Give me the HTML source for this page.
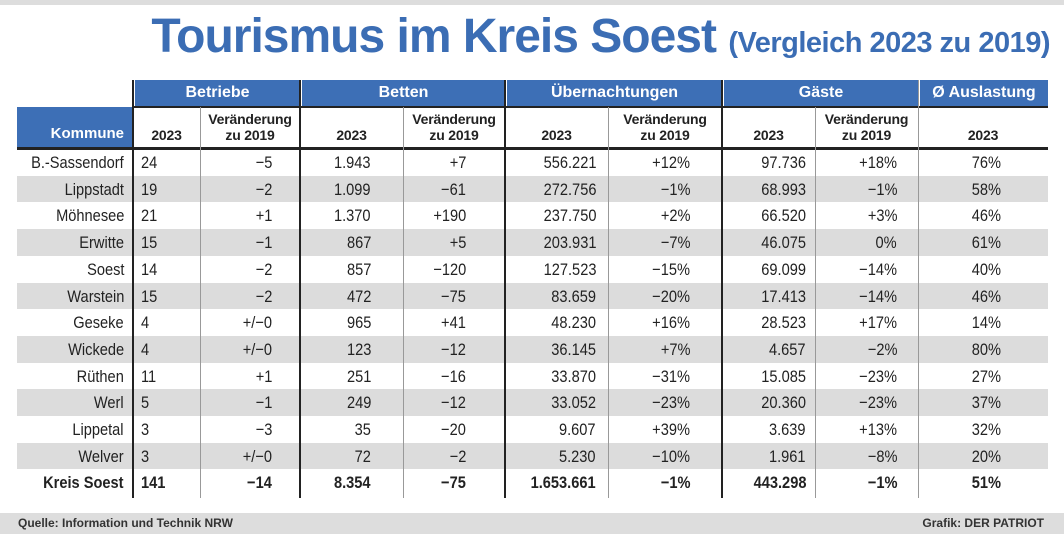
<!DOCTYPE html>
<html><head><meta charset="utf-8">
<style>
body{margin:0;width:1064px;height:534px;background:#fff;position:relative;overflow:hidden;font-family:"Liberation Sans Narrow","Liberation Sans",sans-serif;color:#222}
.a{position:absolute;white-space:nowrap}
#title{left:0;width:1050px;text-align:right;top:9px;color:#3b6db4;font-family:"Liberation Sans",sans-serif;font-weight:bold;font-size:48px;letter-spacing:-1px}
#title span{font-size:29px;letter-spacing:-0.5px}
.hb{background:#3d6fb6;color:#fff;font-weight:bold;font-size:16px;text-align:center;line-height:26px;top:80px;height:26px}
.h2{font-size:14px;font-weight:bold;text-align:center;line-height:16px;letter-spacing:-0.2px}
.cell{font-size:17px;line-height:27px;transform:scaleX(0.86)}
.cr{transform-origin:right center}
.cl{transform-origin:left center}
</style></head><body>
<div class="a" style="left:0;top:0;width:1064px;height:5px;background:#ddd"></div>
<div class="a" id="title">Tourismus im Kreis Soest <span>(Vergleich 2023 zu 2019)</span></div>
<div id="table"></div>
<div class="a" style="left:0;top:513px;width:1064px;height:21px;background:#ddd"></div>
<div class="a" style="left:18px;top:516px;font-size:12px;font-weight:bold;color:#333">Quelle: Information und Technik NRW</div>
<div class="a" style="right:20px;top:516px;font-size:12px;font-weight:bold;color:#333">Grafik: DER PATRIOT</div>
<script>
const communes=["B.-Sassendorf","Lippstadt","Möhnesee","Erwitte","Soest","Warstein","Geseke","Wickede","Rüthen","Werl","Lippetal","Welver","Kreis Soest"];
const betriebe=["24","19","21","15","14","15","4","4","11","5","3","3","141"];
const betriebeChg=["−5","−2","+1","−1","−2","−2","+/−0","+/−0","+1","−1","−3","+/−0","−14"];
const betten=["1.943","1.099","1.370","867","857","472","965","123","251","249","35","72","8.354"];
const bettenChg=["+7","−61","+190","+5","−120","−75","+41","−12","−16","−12","−20","−2","−75"];
const uebern=["556.221","272.756","237.750","203.931","127.523","83.659","48.230","36.145","33.870","33.052","9.607","5.230","1.653.661"];
const uebernChg=["+12%","−1%","+2%","−7%","−15%","−20%","+16%","+7%","−31%","−23%","+39%","−10%","−1%"];
const gaeste=["97.736","68.993","66.520","46.075","69.099","17.413","28.523","4.657","15.085","20.360","3.639","1.961","443.298"];
const gaesteChg=["+18%","−1%","+3%","0%","−14%","−14%","+17%","−2%","−23%","−23%","+13%","−8%","−1%"];
const auslastung=["76%","58%","46%","61%","40%","46%","14%","80%","27%","37%","32%","20%","51%"];

const T=document.getElementById('table');
function add(style,cls,text){const d=document.createElement('div');d.className='a '+(cls||'');d.setAttribute('style',style);if(text!==undefined)d.innerHTML=text;T.appendChild(d);return d;}
const top0=149,rowH=26.7;
communes.forEach((c,i)=>{if(i%2===1){
const r=add(`left:17px;top:${top0+i*rowH}px;width:1031px;height:${rowH}px;background:#dcdcdc`);

}});
const groups=[["Betriebe",133,300],["Betten",300,505],["Übernachtungen",505,722],["Gäste",722,918],["Ø Auslastung",918,1048]];
groups.forEach(g=>{const h=add(`left:${g[1]+2}px;width:${g[2]-g[1]-2}px`,'hb',g[0]);

});
const k=add('left:17px;top:107px;width:116px;height:41px;background:#3d6fb6;color:#fff;font-weight:bold;font-size:15px;text-align:right;box-sizing:border-box;padding:18px 9px 0 0','', 'Kommune');


const subs=[[133,200,"2023"],[200,300,"Veränderung<br>zu 2019"],[300,403,"2023"],[403,505,"Veränderung<br>zu 2019"],[505,608,"2023"],[608,722,"Veränderung<br>zu 2019"],[722,815,"2023"],[815,918,"Veränderung<br>zu 2019"],[918,1048,"2023"]];
subs.forEach(s=>{const two=s[2].includes('<br>');const h=add(`left:${s[0]}px;width:${s[1]-s[0]}px;top:${two?111:127}px`,'h2',s[2]);

});
const l1=add('left:133px;top:106px;width:915px;height:2px;background:#222');


const l2=add('left:17px;top:147px;width:1031px;height:2.5px;background:#222');


const vlines=[[133,2.5,'#222',80],[200,1,'#999',107],[300,2.5,'#222',80],[403,1,'#999',107],[505,2.5,'#222',80],[608,1,'#999',107],[722,2.5,'#222',80],[815,1,'#999',107],[918,1,'#999',80]];
vlines.forEach(v=>{const l=add(`left:${v[0]-v[1]/2}px;top:${v[3]}px;width:${v[1]}px;height:${498-v[3]}px;background:${v[2]}`);

});
const cols=[[communes,'r',124],[betriebe,'l',141],[betriebeChg,'r',272],[betten,'r',371],[bettenChg,'r',466],[uebern,'r',596],[uebernChg,'r',690],[gaeste,'r',806],[gaesteChg,'r',897],[auslastung,'r',1001]];
communes.forEach((c,i)=>{
  const bold=i===communes.length-1;
  cols.forEach((col,j)=>{
    const pos=col[1]==='r'?`right:${1064-col[2]}px`:`left:${col[2]}px`;
    const d=add(`${pos};top:${top0+i*rowH}px;${bold?'font-weight:bold;':''}`,'cell '+(col[1]==='r'?'cr':'cl'),col[0][i]);
    
    
  });
});
</script>
</body></html>
